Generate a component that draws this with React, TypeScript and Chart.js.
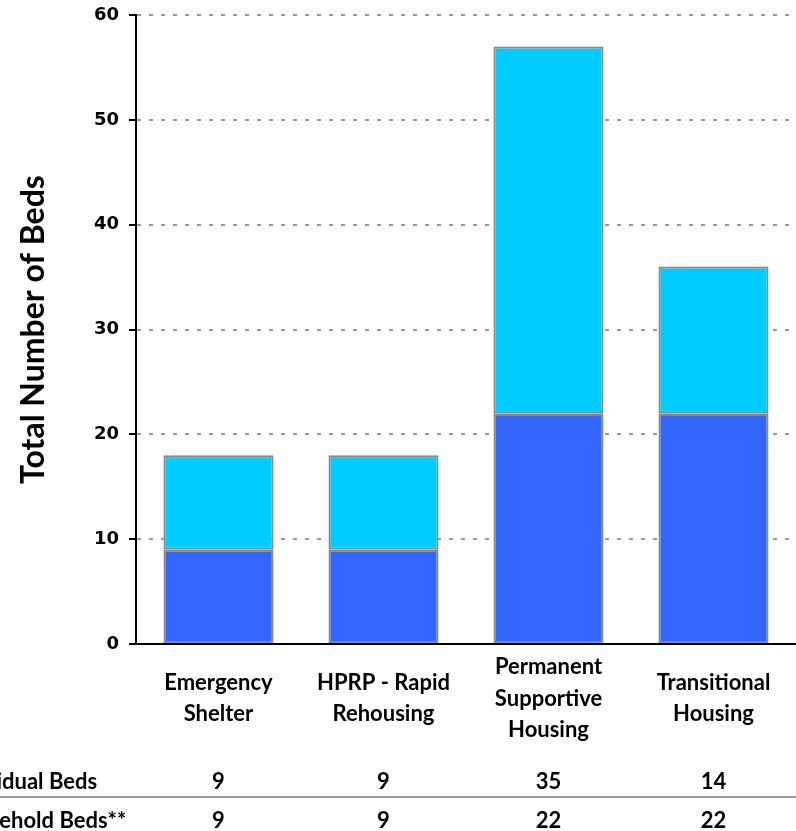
import { useEffect, useRef } from "react";
import { Chart, registerables } from "chart.js";

Chart.register(...registerables);

const categories: string[][] = [
  ["Emergency", "Shelter"],
  ["HPRP - Rapid", "Rehousing"],
  ["Permanent", "Supportive", "Housing"],
  ["Transitional", "Housing"],
];
const individualBeds = [9, 9, 35, 14];
const householdBeds = [9, 9, 22, 22];
const rowLabels = ["Individual Beds", "Household Beds**"];
const yMin = 0;
const yMax = 60;
const yStep = 10;

const labelFont = "Lato";

const tablePlugin = {
  id: "dataTable",
  afterDraw(chart: any) {
    const { ctx } = chart;
    const xs = chart.scales.x;
    const h = chart.height;
    const rows = [individualBeds, householdBeds];
    const rowY = [h - 49, h - 10];
    ctx.save();
    ctx.strokeStyle = "#999999";
    ctx.lineWidth = 2;
    ctx.beginPath();
    ctx.moveTo(0, h - 34);
    ctx.lineTo(chart.width, h - 34);
    ctx.stroke();
    ctx.font = `bold 22px ${labelFont}`;
    ctx.fillStyle = "#000";
    ctx.textBaseline = "middle";
    rows.forEach((vals, r) => {
      ctx.textAlign = "left";
      ctx.fillText(rowLabels[r], -52, rowY[r]);
      ctx.textAlign = "center";
      vals.forEach((v, i) => {
        ctx.fillText(String(v), xs.getPixelForValue(i), rowY[r]);
      });
    });
    ctx.restore();
  },
};

export default function App() {
  const ref = useRef<HTMLCanvasElement | null>(null);
  useEffect(() => {
    if (!ref.current) return;
    const chart = new Chart(ref.current, {
      type: "bar",
      data: {
        labels: categories as any,
        datasets: [
          {
            label: rowLabels[1],
            data: householdBeds,
            backgroundColor: "#3366FF",
            borderColor: "#888888",
            borderWidth: 2,
            borderSkipped: false,
          },
          {
            label: rowLabels[0],
            data: individualBeds,
            backgroundColor: "#00CCFF",
            borderColor: "#888888",
            borderWidth: 2,
            borderSkipped: false,
          },
        ],
      },
      options: {
        animation: false,
        responsive: true,
        maintainAspectRatio: false,
        layout: { padding: { top: 15, left: 0, right: 0, bottom: 0 } },
        plugins: { legend: { display: false }, tooltip: { enabled: false } },
        datasets: { bar: { categoryPercentage: 1, barPercentage: 0.667 } },
        scales: {
          x: {
            stacked: true,
            grid: { display: false, drawTicks: false },
            border: { display: true, color: "#000", width: 2, z: 1 },
            ticks: {
              color: "#000",
              font: { family: labelFont, size: 22, weight: "bold", lineHeight: 1.43 },
              crossAlign: "center",
              padding: 23,
              maxRotation: 0,
              autoSkip: false,
            },
            afterFit: (s: any) => {
              s.height = 187;
            },
          },
          y: {
            stacked: true,
            min: yMin,
            max: yMax,
            ticks: {
              stepSize: yStep,
              color: "#000",
              font: { family: "DejaVu Sans", size: 18, weight: "bold" },
              padding: 10,
            },
            grid: {
              color: "#999999",
              lineWidth: 2,
              tickColor: "#000",
              tickWidth: 2,
              tickLength: 7,
            },
            border: { display: true, color: "#000", width: 2, dash: [4, 8], z: 1 },
            title: {
              display: true,
              text: "Total Number of Beds",
              color: "#000",
              font: { family: labelFont, size: 32, weight: "bold", lineHeight: 1.2 },
              padding: { top: 14, bottom: 0 },
            },
            afterFit: (s: any) => {
              s.width = 136;
              s.paddingTop = 0;
              s.paddingBottom = 0;
            },
          },
        },
      },
      plugins: [tablePlugin],
    });
    return () => chart.destroy();
  }, []);
  return (
    <div style={{ position: "absolute", left: 0, top: 0, width: 796, height: 831 }}>
      <canvas ref={ref} />
    </div>
  );
}
